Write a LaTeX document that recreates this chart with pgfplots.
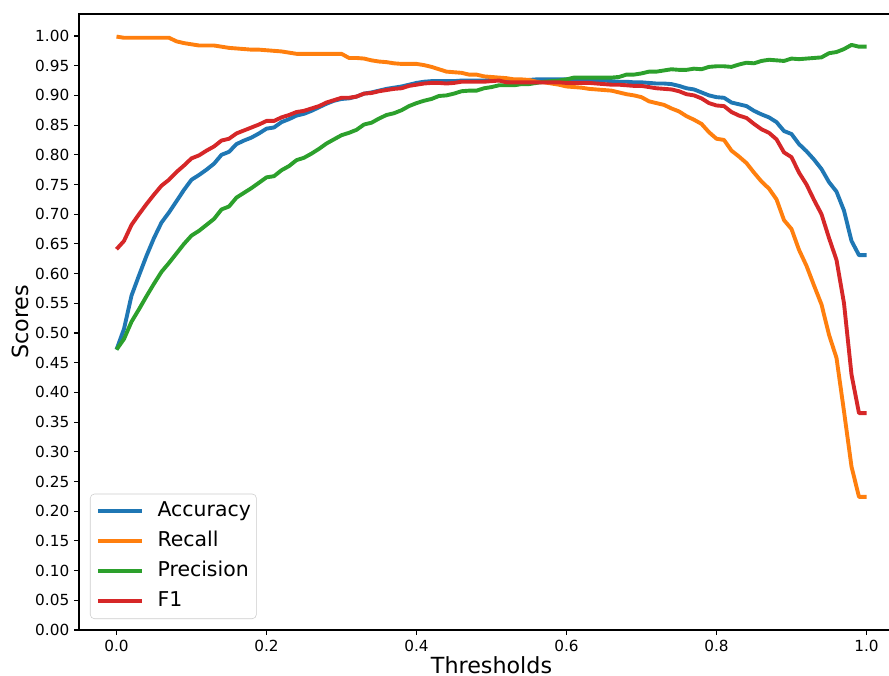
\documentclass[border=0pt]{standalone}
\usepackage{fontspec}
\setmainfont{DejaVu Sans}
\usepackage{pgfplots}
\usepackage{pgfplotstable}
\pgfplotsset{compat=1.18}

\definecolor{tabblue}{HTML}{1F77B4}
\definecolor{taborange}{HTML}{FF7F0E}
\definecolor{tabgreen}{HTML}{2CA02C}
\definecolor{tabred}{HTML}{D62728}

% threshold sweep: accuracy, recall, precision, f1
\pgfplotstableread{
t acc rec prec f1
0.00 0.472 0.999 0.472 0.641
0.01 0.507 0.997 0.490 0.655
0.02 0.563 0.997 0.519 0.682
0.03 0.597 0.997 0.540 0.700
0.04 0.630 0.997 0.562 0.717
0.05 0.660 0.997 0.583 0.733
0.06 0.686 0.997 0.603 0.748
0.07 0.703 0.997 0.618 0.758
0.08 0.722 0.991 0.634 0.771
0.09 0.741 0.988 0.650 0.782
0.10 0.758 0.986 0.664 0.794
0.11 0.766 0.984 0.672 0.799
0.12 0.775 0.984 0.682 0.807
0.13 0.785 0.984 0.692 0.814
0.14 0.800 0.982 0.708 0.824
0.15 0.805 0.980 0.713 0.827
0.16 0.818 0.979 0.728 0.836
0.17 0.824 0.978 0.736 0.841
0.18 0.829 0.977 0.744 0.846
0.19 0.836 0.977 0.753 0.851
0.20 0.844 0.976 0.762 0.857
0.21 0.846 0.975 0.764 0.857
0.22 0.855 0.974 0.774 0.863
0.23 0.860 0.972 0.781 0.867
0.24 0.866 0.970 0.791 0.872
0.25 0.869 0.970 0.795 0.874
0.26 0.874 0.970 0.802 0.878
0.27 0.880 0.970 0.810 0.882
0.28 0.886 0.970 0.819 0.888
0.29 0.891 0.970 0.826 0.892
0.30 0.894 0.970 0.833 0.896
0.31 0.895 0.963 0.837 0.896
0.32 0.898 0.963 0.842 0.898
0.33 0.903 0.962 0.851 0.903
0.34 0.905 0.959 0.854 0.904
0.35 0.908 0.957 0.861 0.907
0.36 0.911 0.956 0.867 0.909
0.37 0.913 0.954 0.870 0.911
0.38 0.915 0.953 0.875 0.912
0.39 0.918 0.953 0.882 0.916
0.40 0.921 0.953 0.887 0.918
0.41 0.923 0.951 0.891 0.920
0.42 0.924 0.948 0.894 0.921
0.43 0.924 0.944 0.899 0.921
0.44 0.924 0.940 0.900 0.920
0.45 0.924 0.939 0.903 0.921
0.46 0.925 0.938 0.907 0.923
0.47 0.925 0.935 0.908 0.923
0.48 0.925 0.935 0.908 0.923
0.49 0.925 0.932 0.912 0.923
0.50 0.926 0.931 0.914 0.924
0.51 0.926 0.930 0.917 0.925
0.52 0.925 0.929 0.917 0.922
0.53 0.925 0.927 0.917 0.922
0.54 0.925 0.927 0.919 0.922
0.55 0.926 0.926 0.919 0.922
0.56 0.927 0.923 0.921 0.922
0.57 0.927 0.922 0.923 0.922
0.58 0.927 0.920 0.924 0.922
0.59 0.927 0.918 0.925 0.922
0.60 0.927 0.915 0.927 0.921
0.61 0.927 0.914 0.930 0.921
0.62 0.926 0.913 0.930 0.921
0.63 0.926 0.911 0.930 0.921
0.64 0.925 0.910 0.930 0.920
0.65 0.925 0.909 0.930 0.919
0.66 0.924 0.908 0.930 0.918
0.67 0.923 0.905 0.931 0.918
0.68 0.923 0.902 0.935 0.917
0.69 0.922 0.900 0.935 0.916
0.70 0.922 0.897 0.937 0.916
0.71 0.921 0.890 0.940 0.914
0.72 0.920 0.887 0.940 0.912
0.73 0.920 0.884 0.942 0.911
0.74 0.919 0.878 0.944 0.910
0.75 0.916 0.873 0.943 0.907
0.76 0.912 0.865 0.943 0.902
0.77 0.910 0.859 0.945 0.900
0.78 0.905 0.852 0.944 0.895
0.79 0.900 0.838 0.948 0.887
0.80 0.897 0.827 0.949 0.883
0.81 0.896 0.825 0.949 0.882
0.82 0.888 0.807 0.948 0.872
0.83 0.885 0.797 0.952 0.866
0.84 0.882 0.786 0.955 0.862
0.85 0.874 0.770 0.954 0.852
0.86 0.868 0.755 0.958 0.843
0.87 0.863 0.743 0.960 0.837
0.88 0.855 0.725 0.959 0.826
0.89 0.840 0.690 0.958 0.804
0.90 0.835 0.675 0.962 0.796
0.91 0.818 0.640 0.961 0.770
0.92 0.806 0.613 0.962 0.750
0.93 0.792 0.580 0.963 0.724
0.94 0.776 0.548 0.964 0.700
0.95 0.754 0.497 0.971 0.660
0.96 0.738 0.458 0.973 0.623
0.97 0.706 0.368 0.978 0.550
0.98 0.655 0.275 0.985 0.430
0.99 0.631 0.224 0.982 0.365
1.00 0.631 0.224 0.982 0.365
}\scores

\begin{document}
\begin{tikzpicture}
\begin{axis}[
    scale only axis,
    width=594pt,
    height=443.5pt,
    xmin=-0.05, xmax=1.05,
    ymin=0, ymax=1.037,
    xtick distance=0.2,
    ytick distance=0.05,
    tick align=outside,
    xtick pos=bottom,
    ytick pos=left,
    major tick length=3.5pt,
    tick style={black, line width=0.8pt},
    axis line style={line width=0.8pt},
    /pgf/number format/assume math mode=true,
    tick label style={font=\fontsize{11}{13}\selectfont},
    xticklabel style={/pgf/number format/.cd, fixed, fixed zerofill, precision=1},
    yticklabel style={/pgf/number format/.cd, fixed, fixed zerofill, precision=2},
    xlabel={Thresholds},
    ylabel={Scores},
    label style={font=\fontsize{16}{19}\selectfont},
    xlabel style={at={(axis description cs:0.5,-0.0700)}, anchor=base, inner sep=0pt},
    ylabel style={at={(axis description cs:-0.0617,0.5)}, anchor=base},
    legend cell align=left,
    legend image code/.code={\draw[#1] (0pt,0pt) -- (31.7pt,0pt);},
    legend style={
        at={(0,0)}, anchor=south west, xshift=7.9pt, yshift=7.9pt,
        font=\fontsize{14.7}{17}\selectfont,
        draw=black!20, rounded corners=3pt, fill=white, fill opacity=0.8, text opacity=1,
        inner xsep=4pt, inner ysep=5pt,
        nodes={inner xsep=0pt, inner ysep=0pt, text height=11.5pt, text depth=3.5pt},
        column sep=10pt, row sep=6.6pt,
    },
    every axis plot/.append style={line width=2.8pt, line join=round, no markers},
]
\addplot[tabblue] table[x=t, y=acc] {\scores};
\addlegendentry{Accuracy}
\addplot[taborange] table[x=t, y=rec] {\scores};
\addlegendentry{Recall}
\addplot[tabgreen] table[x=t, y=prec] {\scores};
\addlegendentry{Precision}
\addplot[tabred] table[x=t, y=f1] {\scores};
\addlegendentry{F1}
\end{axis}
\pgfresetboundingbox
\path ([xshift=-56.9pt, yshift=-33.1pt]current axis.south west)
    rectangle ([xshift=-10.8pt, yshift=10.1pt]current axis.north east);
\end{tikzpicture}
\end{document}
